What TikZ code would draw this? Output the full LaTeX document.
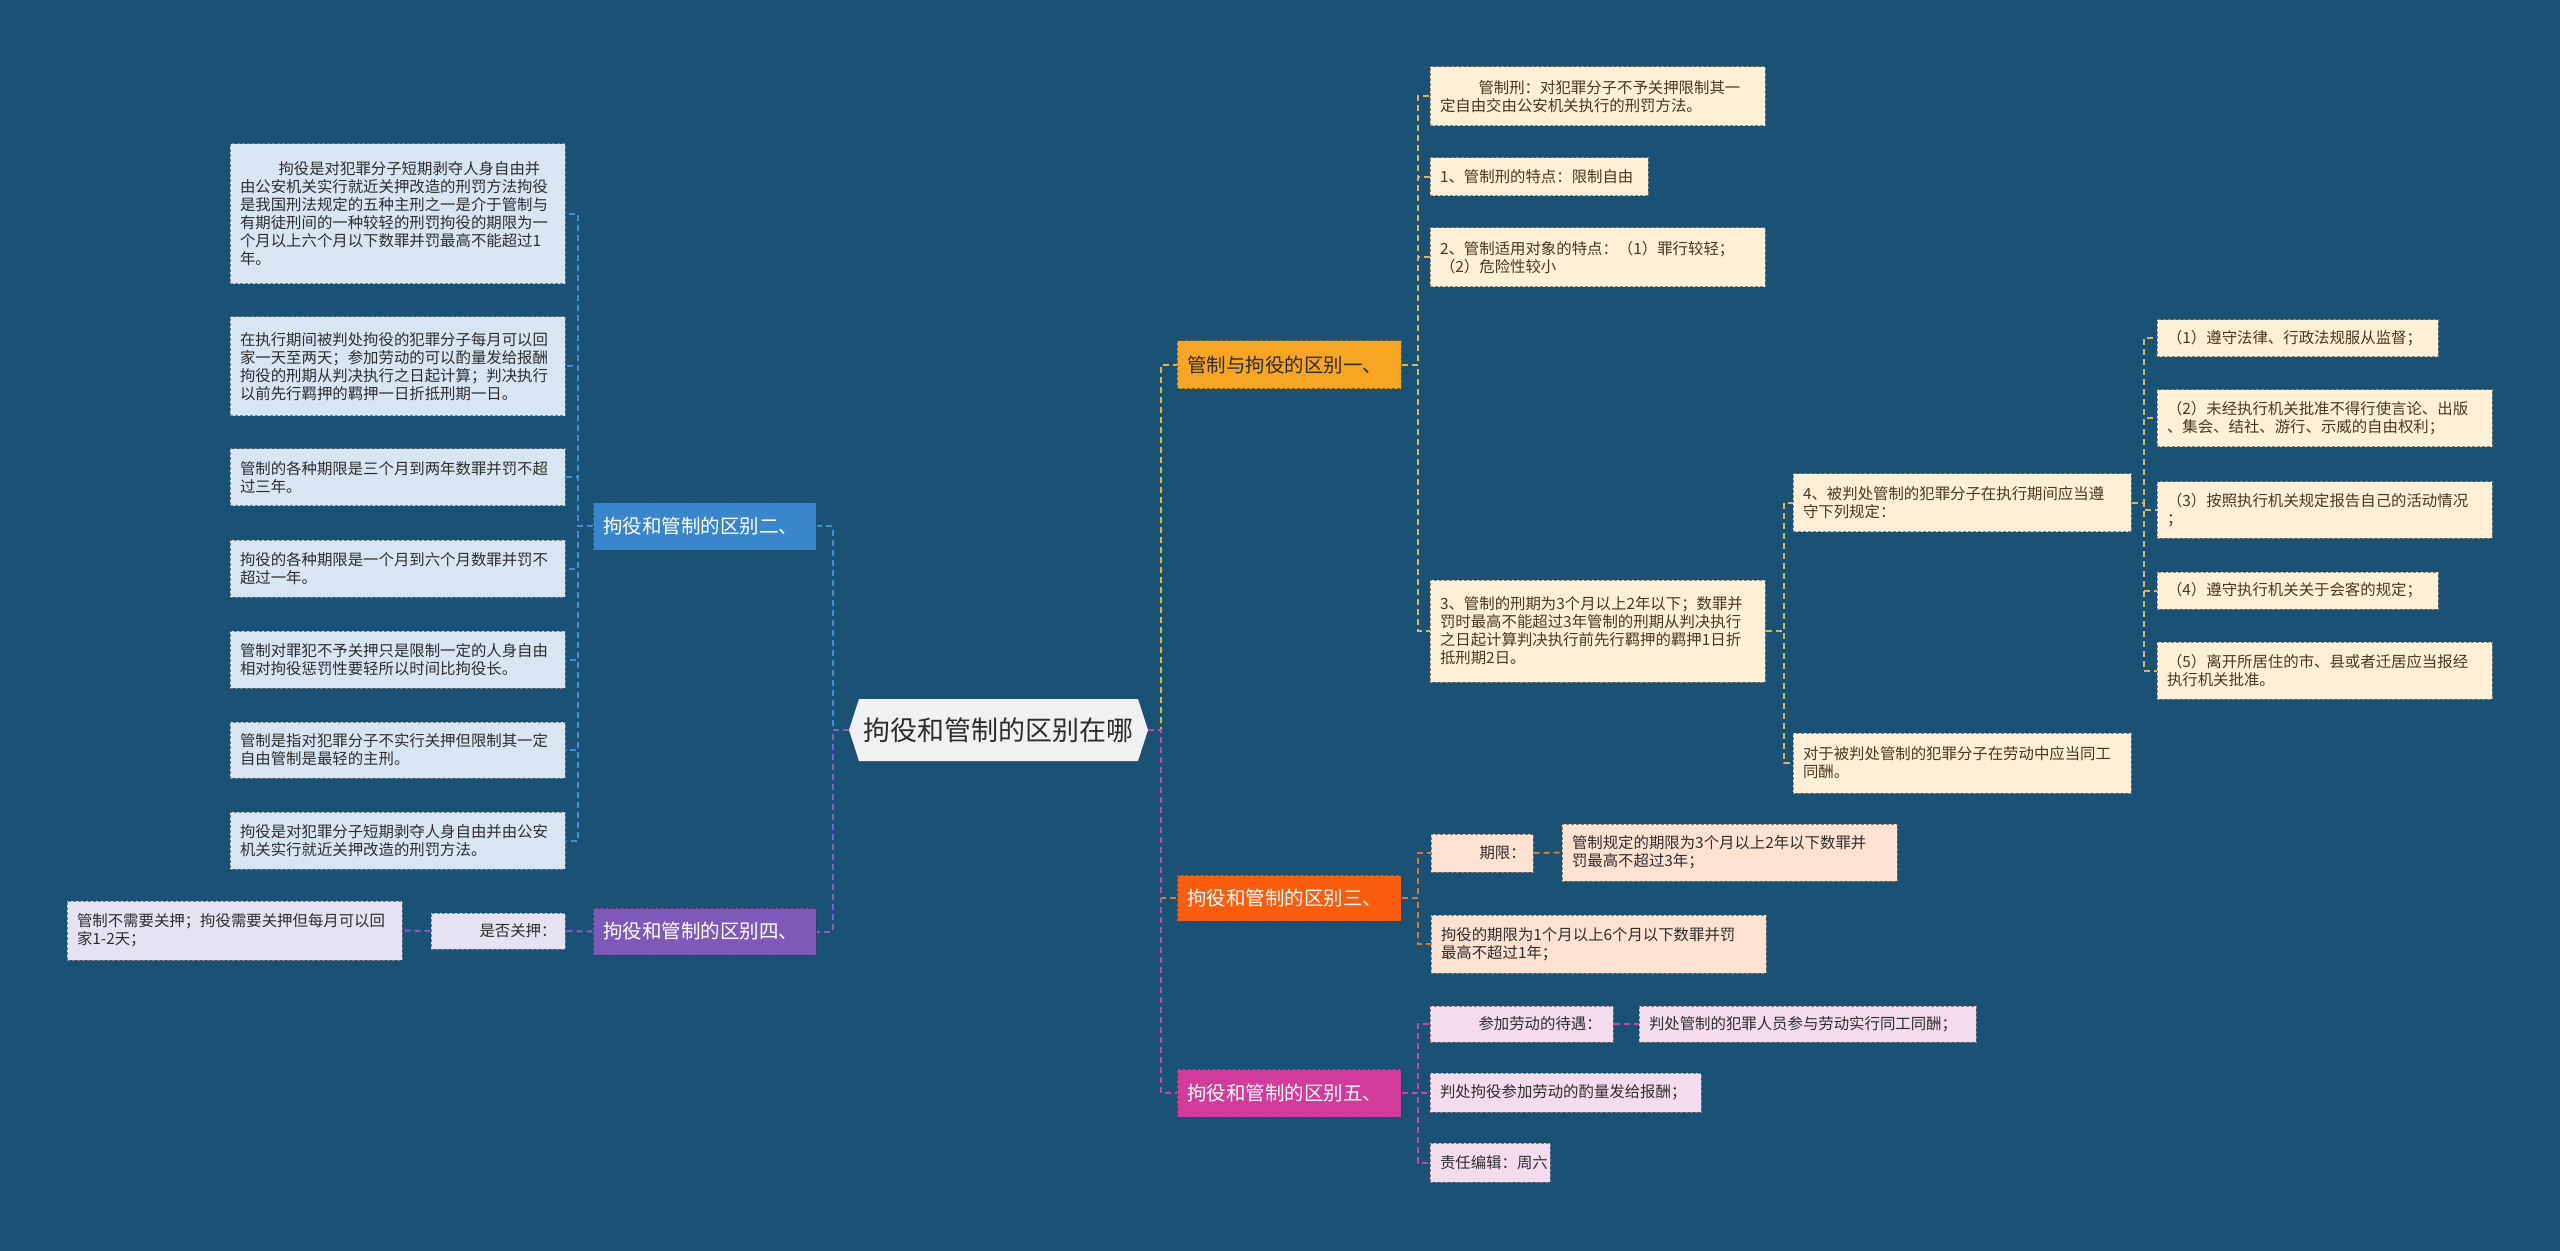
\documentclass[tikz,border=0pt]{standalone}
\usepackage{fontspec}
\setmainfont{Noto Sans CJK SC}
\definecolor{bgc}{RGB}{26,82,118}
\definecolor{rootfill}{RGB}{241,241,243}
\definecolor{txtc}{RGB}{45,45,45}
\definecolor{creamtxt}{RGB}{70,56,34}
\definecolor{fB1}{RGB}{246,166,35}
\definecolor{fB2}{RGB}{58,134,204}
\definecolor{fB3}{RGB}{250,93,14}
\definecolor{fB4}{RGB}{127,89,183}
\definecolor{fB5}{RGB}{210,58,155}
\definecolor{fLblue}{RGB}{216,230,244}
\definecolor{fLlav}{RGB}{230,226,242}
\definecolor{fLcream}{RGB}{254,240,214}
\definecolor{fLpeach}{RGB}{253,226,210}
\definecolor{fLpink}{RGB}{244,220,238}
\definecolor{cnBlue}{RGB}{63,143,216}
\definecolor{cnPurp}{RGB}{138,91,196}
\definecolor{cnYel}{RGB}{232,181,46}
\definecolor{cnGold}{RGB}{214,183,92}
\definecolor{cnOrg}{RGB}{214,120,60}
\definecolor{cnMag}{RGB}{198,70,170}
\tikzset{
  every node/.style={inner ysep=0pt, inner xsep=5pt, align=left},
  boxbase/.style={draw=#1!55!black, fill=#1, dash pattern=on 1.5pt off 1pt, line width=0.5pt},
  lfblue/.style={boxbase=fLblue, text=txtc, font=\fontsize{7.7pt}{9pt}\selectfont},
  lflav/.style={boxbase=fLlav, text=txtc, font=\fontsize{7.7pt}{9pt}\selectfont},
  lfcream/.style={boxbase=fLcream, text=creamtxt, font=\fontsize{7.7pt}{9pt}\selectfont},
  lfpeach/.style={boxbase=fLpeach, text=txtc, font=\fontsize{7.7pt}{9pt}\selectfont},
  lfpink/.style={boxbase=fLpink, text=txtc, font=\fontsize{7.7pt}{9pt}\selectfont},
  brA/.style={boxbase=fB1, text=txtc, font=\fontsize{9.75pt}{11pt}\selectfont},
  brB/.style={boxbase=fB2, text=white, font=\fontsize{9.75pt}{11pt}\selectfont},
  brC/.style={boxbase=fB3, text=white, font=\fontsize{9.75pt}{11pt}\selectfont},
  brD/.style={boxbase=fB4, text=white, font=\fontsize{9.75pt}{11pt}\selectfont},
  brE/.style={boxbase=fB5, text=white, font=\fontsize{9.75pt}{11pt}\selectfont},
  rootnode/.style={text=txtc, font=\fontsize{13.5pt}{15pt}\selectfont, align=center},
  conn/.style={line width=1pt, dash pattern=on 3pt off 2pt, draw=#1},
}
\newcommand{\mkbox}[7]{%
  \pgfmathsetmacro\bxw{(#4-#2)*0.5}%
  \pgfmathsetmacro\bxh{(#5-#3)*0.5}%
  \pgfmathsetmacro\bxt{(#4-#2-20)*0.5}%
  \node[#6, minimum width=\bxw pt, minimum height=\bxh pt, text width=\bxt pt] (#1) at ({(#2+#4)/2},{(#3+#5)/2}) {#7};}
\begin{document}
\begin{tikzpicture}[x=0.5pt,y=-0.5pt]
\fill[bgc] (0,0) rectangle (2560,1251);
% root
\fill[rootfill] (849,730) -- (859,699) -- (1138,699) -- (1148,730) -- (1138,761) -- (859,761) -- cycle;
\node[rootnode, minimum width=149.5pt, minimum height=31pt] (root) at (998.5,730) {拘役和管制的区别在哪};
% branches
\mkbox{b1}{1177}{341}{1401}{389}{brA}{管制与拘役的区别一、}
\mkbox{b2}{593}{503}{816}{550}{brB}{拘役和管制的区别二、}
\mkbox{b3}{1177}{875}{1401}{921}{brC}{拘役和管制的区别三、}
\mkbox{b4}{593}{908}{816}{955}{brD}{拘役和管制的区别四、}
\mkbox{b5}{1177}{1069}{1401}{1117}{brE}{拘役和管制的区别五、}
% left leaves of branch two
\mkbox{l1}{230}{144}{565}{284}{lfblue}{\hspace*{2.5em}拘役是对犯罪分子短期剥夺人身自由并\\由公安机关实行就近关押改造的刑罚方法拘役\\是我国刑法规定的五种主刑之一是介于管制与\\有期徒刑间的一种较轻的刑罚拘役的期限为一\\个月以上六个月以下数罪并罚最高不能超过1\\年。}
\mkbox{l2}{230}{317}{565}{416}{lfblue}{在执行期间被判处拘役的犯罪分子每月可以回\\家一天至两天；参加劳动的可以酌量发给报酬\\拘役的刑期从判决执行之日起计算；判决执行\\以前先行羁押的羁押一日折抵刑期一日。}
\mkbox{l3}{230}{449}{565}{506}{lfblue}{管制的各种期限是三个月到两年数罪并罚不超\\过三年。}
\mkbox{l4}{230}{540}{565}{597}{lfblue}{拘役的各种期限是一个月到六个月数罪并罚不\\超过一年。}
\mkbox{l5}{230}{631}{565}{688}{lfblue}{管制对罪犯不予关押只是限制一定的人身自由\\相对拘役惩罚性要轻所以时间比拘役长。}
\mkbox{l6}{230}{722}{565}{778}{lfblue}{管制是指对犯罪分子不实行关押但限制其一定\\自由管制是最轻的主刑。}
\mkbox{l7}{230}{812}{565}{869}{lfblue}{拘役是对犯罪分子短期剥夺人身自由并由公安\\机关实行就近关押改造的刑罚方法。}
% branch four
\mkbox{q4}{431}{913}{565}{949}{lflav}{\hspace*{2.5em}是否关押：}
\mkbox{q4l}{67}{901}{402}{960}{lflav}{管制不需要关押；拘役需要关押但每月可以回\\家1-2天；}
% branch one
\mkbox{r1}{1430}{67}{1765}{126}{lfcream}{\hspace*{2.5em}管制刑：对犯罪分子不予关押限制其一\\定自由交由公安机关执行的刑罚方法。}
\mkbox{r2}{1430}{158}{1648}{196}{lfcream}{1、管制刑的特点：限制自由}
\mkbox{r3}{1430}{228}{1765}{287}{lfcream}{2、管制适用对象的特点：（1）罪行较轻；\\（2）危险性较小}
\mkbox{r4}{1430}{580}{1765}{682}{lfcream}{3、管制的刑期为3个月以上2年以下；数罪并\\罚时最高不能超过3年管制的刑期从判决执行\\之日起计算判决执行前先行羁押的羁押1日折\\抵刑期2日。}
\mkbox{r5}{1793}{474}{2131}{532}{lfcream}{4、被判处管制的犯罪分子在执行期间应当遵\\守下列规定：}
\mkbox{r6}{1793}{733}{2131}{793}{lfcream}{对于被判处管制的犯罪分子在劳动中应当同工\\同酬。}
\mkbox{c1}{2157}{320}{2438}{357}{lfcream}{（1）遵守法律、行政法规服从监督；}
\mkbox{c2}{2157}{390}{2492}{447}{lfcream}{（2）未经执行机关批准不得行使言论、出版\\、集会、结社、游行、示威的自由权利；}
\mkbox{c3}{2157}{482}{2492}{538}{lfcream}{（3）按照执行机关规定报告自己的活动情况\\；}
\mkbox{c4}{2157}{572}{2438}{609}{lfcream}{（4）遵守执行机关关于会客的规定；}
\mkbox{c5}{2157}{642}{2492}{699}{lfcream}{（5）离开所居住的市、县或者迁居应当报经\\执行机关批准。}
% branch three
\mkbox{t1}{1431}{834}{1533}{872}{lfpeach}{\hspace*{2.5em}期限：}
\mkbox{t2}{1562}{824}{1897}{881}{lfpeach}{管制规定的期限为3个月以上2年以下数罪并\\罚最高不超过3年；}
\mkbox{t3}{1431}{915}{1766}{973}{lfpeach}{拘役的期限为1个月以上6个月以下数罪并罚\\最高不超过1年；}
% branch five
\mkbox{f1}{1430}{1006}{1613}{1042}{lfpink}{\hspace*{2.5em}参加劳动的待遇：}
\mkbox{f2}{1639}{1006}{1976}{1042}{lfpink}{判处管制的犯罪人员参与劳动实行同工同酬；}
\mkbox{f3}{1430}{1073}{1701}{1112}{lfpink}{判处拘役参加劳动的酌量发给报酬；}
\mkbox{f4}{1430}{1143}{1550}{1182}{lfpink}{责任编辑：周六}
% connectors: root
\draw[conn=cnBlue] (root.west) -- ++(-16,0) |- (b2.east);
\draw[conn=cnPurp] (root.west) -- ++(-16,0) |- (b4.east);
\draw[conn=cnYel] (root.east) -- ++(13,0) |- (b1.west);
\draw[conn=cnOrg] (root.east) -- ++(13,0) |- (b3.west);
\draw[conn=cnMag] (root.east) -- ++(13,0) |- (b5.west);
% branch two
\foreach \n in {l1,l2,l3,l4,l5,l6,l7}
  \draw[conn=cnBlue] (b2.west) -- ++(-15,0) |- (\n.east);
% branch four
\draw[conn=cnPurp] (b4.west) -- (q4.east);
\draw[conn=cnPurp] (q4.west) -- (q4l.east);
% branch one
\foreach \n in {r1,r2,r3,r4}
  \draw[conn=cnGold] (b1.east) -- ++(16,0) |- (\n.west);
\foreach \n in {r5,r6}
  \draw[conn=cnGold] (r4.east) -- ++(18,0) |- (\n.west);
\foreach \n in {c1,c2,c3,c4,c5}
  \draw[conn=cnGold] (r5.east) -- ++(12,0) |- (\n.west);
% branch three
\foreach \n in {t1,t3}
  \draw[conn=cnOrg] (b3.east) -- ++(16,0) |- (\n.west);
\draw[conn=cnOrg] (t1.east) -- (t2.west);
% branch five
\foreach \n in {f1,f3,f4}
  \draw[conn=cnMag] (b5.east) -- ++(16,0) |- (\n.west);
\draw[conn=cnMag] (f1.east) -- (f2.west);
\end{tikzpicture}
\end{document}
